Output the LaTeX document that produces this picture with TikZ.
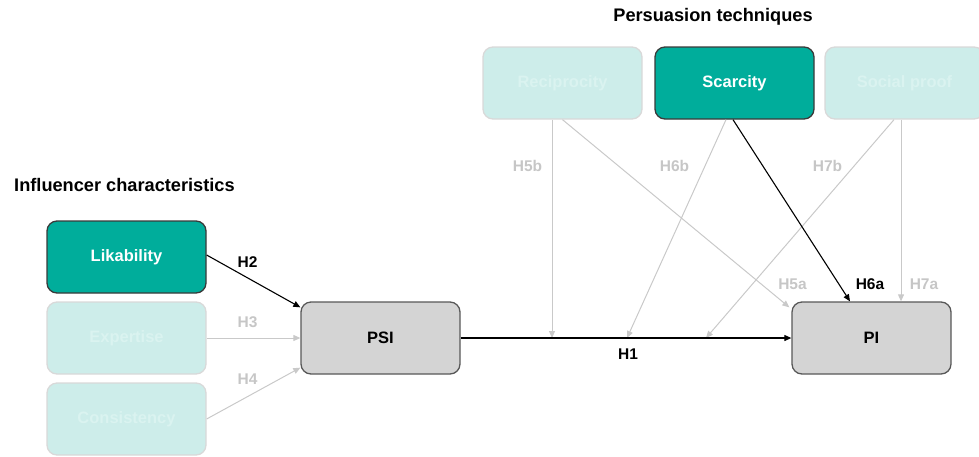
\documentclass[tikz,border=0pt]{standalone}
\usepackage{fontspec}
\setmainfont{Liberation Sans}
\usetikzlibrary{arrows.meta}
\definecolor{teal1}{HTML}{00AD9B}
\definecolor{teallight}{HTML}{CDEDEA}
\definecolor{teallighttext}{HTML}{DAF3F0}
\definecolor{greyline}{HTML}{C9C9C9}
\definecolor{greytext}{HTML}{C6C6C6}
\definecolor{psifill}{HTML}{D4D4D4}
\definecolor{darkborder}{HTML}{3A3A3A}
\tikzset{
  box/.style={rectangle, rounded corners=10pt, minimum width=159pt, minimum height=72pt, inner sep=0pt, line width=1.3pt, font=\fontsize{16.5}{19}\selectfont\bfseries},
  activebox/.style={box, fill=teal1, draw=darkborder, text=white},
  fadedbox/.style={box, fill=teallight, draw=greyline!70, text=teallighttext},
  greybox/.style={box, fill=psifill, draw=darkborder!85, text=black},
  blackarrow/.style={draw=black, line width=1.1pt, -{Triangle[length=7pt,width=6pt]}},
  greyarrow/.style={draw=greyline, line width=1pt, -{Triangle[length=7pt,width=6pt]}},
  hlab/.style={font=\fontsize{15.5}{18}\selectfont\bfseries, inner sep=0pt},
  heading/.style={font=\fontsize{18.2}{21}\selectfont\bfseries, inner sep=0pt},
}
\begin{document}
\begin{tikzpicture}[x=1pt,y=-1pt]
\useasboundingbox (0,0) rectangle (979,456);
% headings
\node[heading] (hp) at (713,17) {Persuasion techniques};
\node[heading, anchor=west] (hi) at (14,185) {Influencer characteristics};
% boxes
\node[activebox] (lik) at (126.5,257) {Likability};
\node[fadedbox] (exp) at (126.5,338) {Expertise};
\node[fadedbox] (con) at (126.5,419) {Consistency};
\node[greybox] (psi) at (380.5,338) {PSI};
\node[greybox] (pi) at (871.5,338) {PI};
\node[fadedbox] (rec) at (562.5,83) {Reciprocity};
\node[activebox] (sca) at (734.5,83) {Scarcity};
\node[fadedbox] (soc) at (904.5,83) {Social proof};
% points on H1 line
\coordinate (m5) at (552,338);
\coordinate (m6) at (627,338);
\coordinate (m7) at (706,338);
% grey connectors
\draw[greyarrow] (exp.east) -- (psi.west);
\draw[greyarrow] (con.east) -- ([yshift=7pt]psi.south west);
\draw[greyarrow] ([xshift=-10.5pt]rec.south) -- (m5);
\draw[greyarrow] (rec.south) -- ([xshift=-2pt,yshift=-6pt]pi.north west);
\draw[greyarrow] ([xshift=-8.5pt]sca.south) -- (m6);
\draw[greyarrow] ([xshift=-10.5pt]soc.south) -- (m7);
\draw[greyarrow] ([xshift=-3.5pt]soc.south) -- ([xshift=29.5pt]pi.north);
% black connectors
\draw[blackarrow] ([yshift=2pt]lik.east) -- ([yshift=-6pt]psi.north west);
\draw[blackarrow] (psi.east) -- (pi.west);
\draw[blackarrow] ([xshift=-1.5pt]sca.south) -- ([xshift=-21.5pt]pi.north);
% labels
\node[hlab] (l2) at (247.5,262) {H2};
\node[hlab, text=greytext] (l3) at (247.5,322) {H3};
\node[hlab, text=greytext] (l4) at (247.5,379) {H4};
\node[hlab] (l1) at (628,354) {H1};
\node[hlab, text=greytext] (l5b) at (527.5,166) {H5b};
\node[hlab, text=greytext] (l6b) at (674.5,166) {H6b};
\node[hlab, text=greytext] (l7b) at (827.5,166) {H7b};
\node[hlab, text=greytext] (l5a) at (792.5,284) {H5a};
\node[hlab] (l6a) at (870,284) {H6a};
\node[hlab, text=greytext] (l7a) at (924,284) {H7a};
\end{tikzpicture}
\end{document}
